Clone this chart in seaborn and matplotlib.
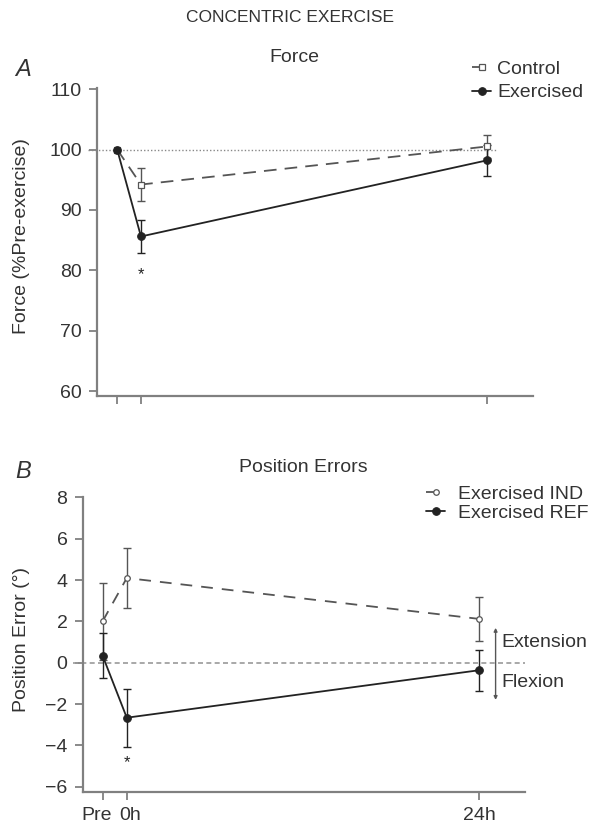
import numpy as np
import pandas as pd
import matplotlib
matplotlib.use("Agg")
import matplotlib.pyplot as plt
import matplotlib.transforms as mtransforms
import seaborn as sns

# ================================================
#  Datos
# ================================================

horas = [-1.65, 0, 24]
etiquetas_x = ["Pre", "0h", "24h"]

# Panel A - Fuerza (% pre-ejercicio)
fuerza_control = [100, 94.2, 100.5]
err_control = [0, 2.7, 1.9]
fuerza_ejercicio = [100, 85.6, 98.2]
err_ejercicio = [0, 2.7, 2.6]
asterisco_a = 80.0

# Panel B - Errores de posicion (grados)
error_ind = [2.0, 4.1, 2.12]
err_ind = [1.85, 1.45, 1.05]
error_ref = [0.35, -2.66, -0.36]
err_ref = [1.1, 1.4, 1.0]
asterisco_b = -4.64

# ================================================
#  Estilo
# ================================================

sns.set_theme(style="ticks")
plt.rcParams['font.family'] = ['Liberation Sans', 'DejaVu Sans']
plt.rcParams['text.color'] = '#333333'
plt.rcParams['axes.labelcolor'] = '#333333'
plt.rcParams['xtick.color'] = '#808080'
plt.rcParams['ytick.color'] = '#808080'
plt.rcParams['xtick.labelcolor'] = '#333333'
plt.rcParams['ytick.labelcolor'] = '#333333'

FS = 14
NEGRO = '#222222'
GRIS = '#555555'

fig = plt.figure(figsize=(5.98, 8.27), dpi=100)
ax_a = fig.add_axes([0.1622, 0.5212, 0.7291, 0.3718])
ax_b = fig.add_axes([0.1383, 0.0427, 0.7396, 0.3563])


def estilo_ejes(ax):
    for lado in ['top', 'right']:
        ax.spines[lado].set_visible(False)
    for lado in ['left', 'bottom']:
        ax.spines[lado].set_color('#808080')
        ax.spines[lado].set_linewidth(1.6)
    ax.tick_params(axis='both', length=6, width=1.3, pad=5, labelsize=FS)


def barras(ax, x, y, e, color):
    x, y, e = np.array(x), np.array(y), np.array(e)
    m = e > 0
    ax.errorbar(x[m], y[m], yerr=e[m], fmt='none', ecolor=color,
                elinewidth=1.0, capsize=2.8, capthick=1.0, zorder=2)


# ================================================
#  Panel A - Fuerza
# ================================================

ax = ax_a
ax.plot([-3.65, 24.7], [100, 100], color='#888888', lw=1.0,
        linestyle=(0, (1, 1.5)), clip_on=False, zorder=1)
barras(ax, horas, fuerza_control, err_control, GRIS)
barras(ax, horas, fuerza_ejercicio, err_ejercicio, NEGRO)
sns.lineplot(x=horas, y=fuerza_control, ax=ax, color=GRIS, lw=1.3,
             linestyle=(0, (7, 4.5)), marker='s', markersize=4,
             markerfacecolor='white', markeredgecolor=GRIS,
             markeredgewidth=0.9, label='Control', zorder=3)
sns.lineplot(x=horas, y=fuerza_ejercicio, ax=ax, color=NEGRO, lw=1.3,
             marker='o', markersize=5.5, markerfacecolor=NEGRO,
             markeredgecolor=NEGRO, label='Exercised', zorder=4)
ax.annotate('*', xy=(0, asterisco_a), xytext=(0, -6), textcoords='offset points',
            ha='center', va='baseline', fontsize=12, color=NEGRO)

ax.set_xlim(-3.05, 27.2)
ax.set_ylim(59.2, 110.1)
ax.set_yticks([60, 70, 80, 90, 100, 110])
ax.set_xticks(horas)
ax.set_xticklabels([])
estilo_ejes(ax)
ax.set_ylabel('Force (%Pre-exercise)', fontsize=FS, va='center')
ax.yaxis.set_label_coords(22 / 598, 1 - 236 / 827, transform=fig.transFigure)
ax.legend(loc='upper left', bbox_to_anchor=(472 / 598, 1 - 60 / 827),
          bbox_transform=fig.transFigure, frameon=False, fontsize=FS,
          handlelength=1.0, handletextpad=0.3, labelspacing=0.32,
          borderpad=0, borderaxespad=0)

# ================================================
#  Panel B - Errores de posicion
# ================================================

ax = ax_b
ax.plot([-3.64, 27.1], [0, 0], color='#999999', lw=1.2,
        linestyle=(0, (3, 2)), clip_on=False, zorder=1)
barras(ax, horas, error_ind, err_ind, GRIS)
barras(ax, horas, error_ref, err_ref, NEGRO)
sns.lineplot(x=horas, y=error_ind, ax=ax, color=GRIS, lw=1.3,
             linestyle=(0, (6.5, 5)), marker='o', markersize=4,
             markerfacecolor='white', markeredgecolor=GRIS,
             markeredgewidth=0.9, label='Exercised IND', zorder=3)
sns.lineplot(x=horas, y=error_ref, ax=ax, color=NEGRO, lw=1.3,
             marker='o', markersize=5.5, markerfacecolor=NEGRO,
             markeredgecolor=NEGRO, label='Exercised REF', zorder=4)
ax.annotate('*', xy=(0, asterisco_b), xytext=(0, -6), textcoords='offset points',
            ha='center', va='baseline', fontsize=12, color=NEGRO)

# flecha Extension / Flexion
ax.annotate('', xy=(25.1, -1.8), xytext=(25.1, 1.69),
            arrowprops=dict(arrowstyle='<|-|>', color=GRIS, lw=1.0,
                            mutation_scale=5, shrinkA=0, shrinkB=0),
            annotation_clip=False)
ax.text(25.5, 0.97, 'Extension', ha='left', va='center', fontsize=FS)
ax.text(25.5, -0.97, 'Flexion', ha='left', va='center', fontsize=FS)

ax.set_xlim(-3.0, 27.1)
ax.set_ylim(-6.24, 8.02)
ax.set_yticks([-6, -4, -2, 0, 2, 4, 6, 8])
ax.set_xticks(horas)
ax.set_xticklabels(etiquetas_x)
estilo_ejes(ax)

# separo un poco "Pre" y "0h" como en el original
desplazamientos = [-6, 3, 0]
for etiqueta, dx in zip(ax.get_xticklabels(), desplazamientos):
    off = mtransforms.ScaledTranslation(dx / 100, 0, fig.dpi_scale_trans)
    etiqueta.set_transform(etiqueta.get_transform() + off)

ax.set_ylabel('Position Error (°)', fontsize=FS, va='center')
ax.yaxis.set_label_coords(22 / 598, 1 - 640 / 827, transform=fig.transFigure)
ax.legend(loc='upper left', bbox_to_anchor=(426 / 598, 1 - 485 / 827),
          bbox_transform=fig.transFigure, frameon=False, fontsize=FS,
          handlelength=1.0, handletextpad=0.65, labelspacing=0.09,
          borderpad=0, borderaxespad=0)

# ================================================
#  Titulos
# ================================================

fig.text(290 / 598, 1 - 18 / 827, 'CONCENTRIC EXERCISE', ha='center', va='center', fontsize=12.5)
fig.text(15 / 598, 1 - 69 / 827, 'A', ha='left', va='center', fontsize=17, style='italic')
fig.text(294 / 598, 1 - 58 / 827, 'Force', ha='center', va='center', fontsize=FS)
fig.text(15 / 598, 1 - 472 / 827, 'B', ha='left', va='center', fontsize=17, style='italic')
fig.text(303 / 598, 1 - 467 / 827, 'Position Errors', ha='center', va='center', fontsize=FS)

fig.savefig('out.png', dpi=100)
